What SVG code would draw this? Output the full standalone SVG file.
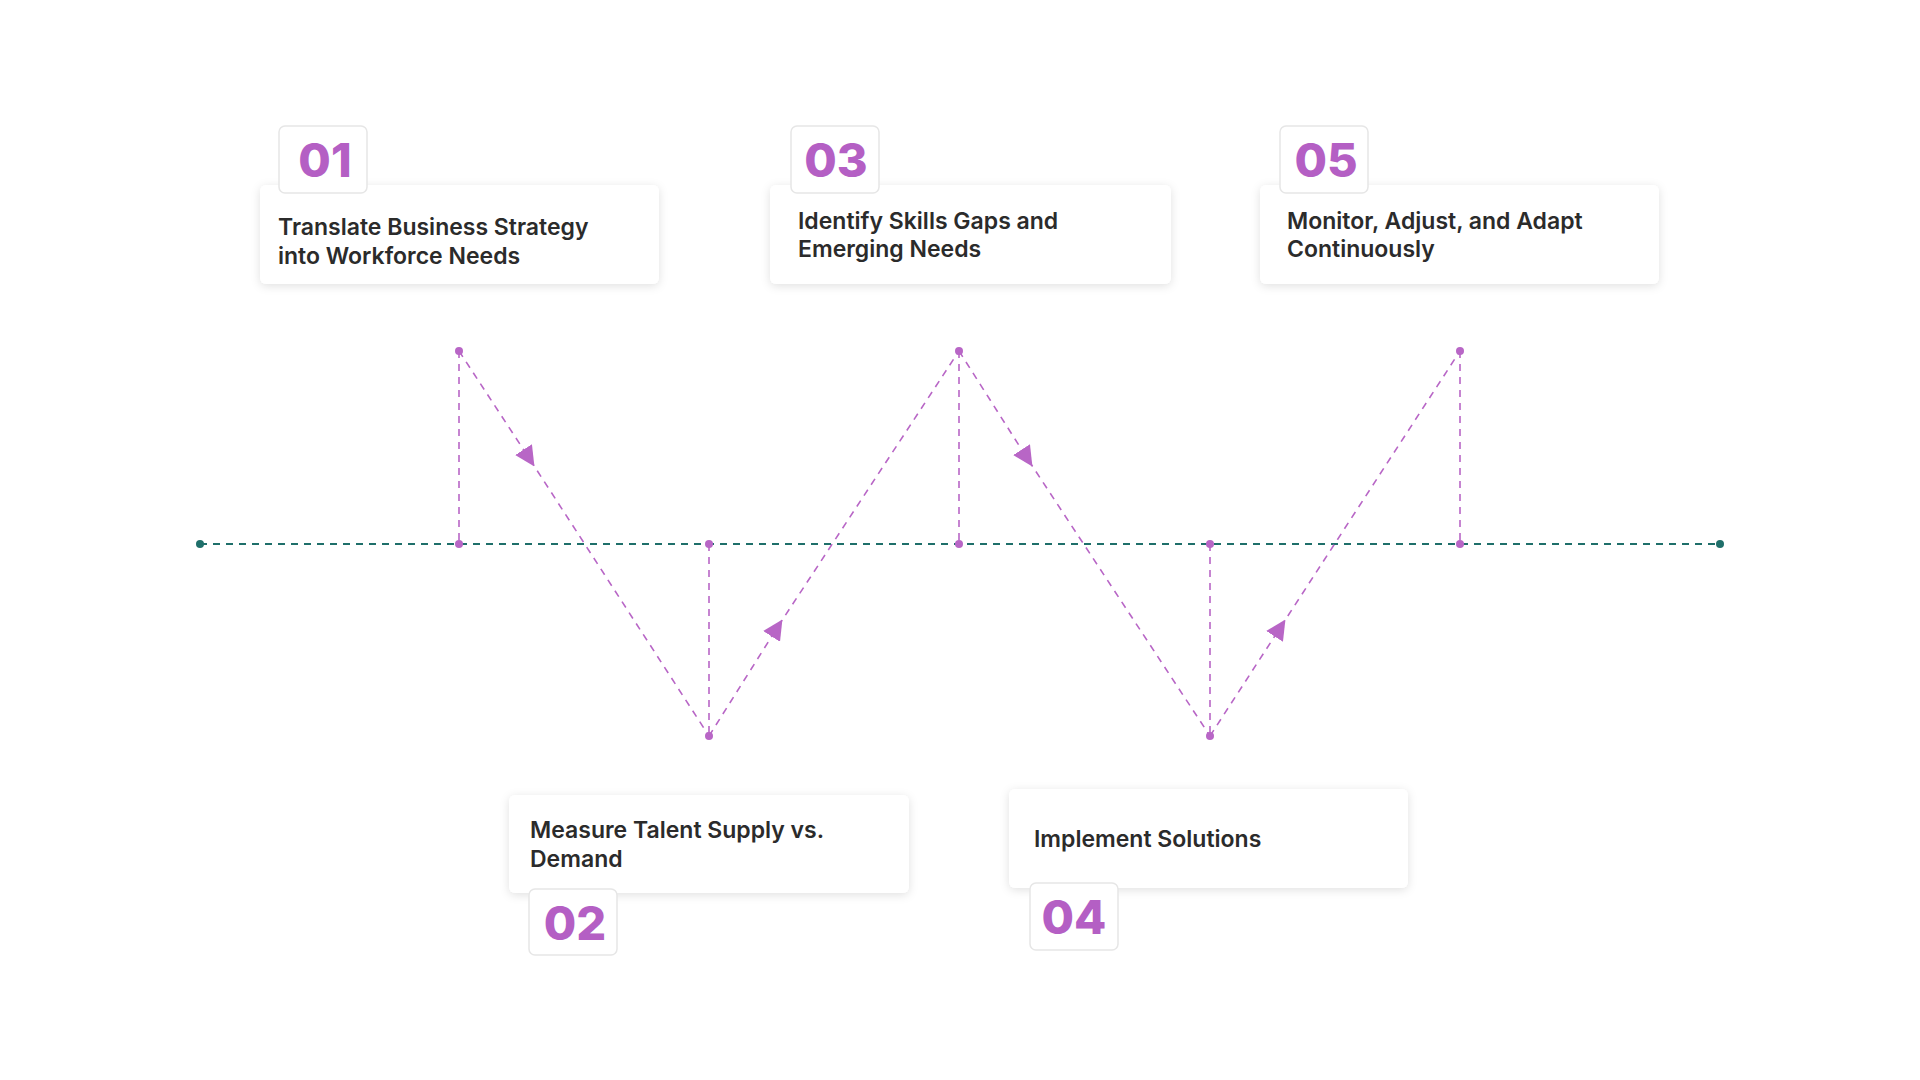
<svg xmlns="http://www.w3.org/2000/svg" width="1920" height="1080" viewBox="0 0 1920 1080">
<style>
.card{fill:#fff;filter:url(#sh)}
.badge{fill:#fff;stroke:#e6e6e6;stroke-width:1.5}
.num{font-family:Inter,"Liberation Sans",sans-serif;font-weight:800;font-size:47px;fill:#b45fc4;text-anchor:middle}
.t{font-family:Inter,"Liberation Sans",sans-serif;font-weight:600;font-size:23px;fill:#2b2b2b}
.z{stroke:#b866c6;stroke-width:1.6;stroke-dasharray:7 6;fill:none}
.dot{fill:#b866c6}
</style>
<defs>
<filter id="sh" x="-10%" y="-20%" width="120%" height="150%"><feDropShadow dx="0" dy="2" stdDeviation="5" flood-color="#000" flood-opacity="0.12"/></filter>
<marker id="ah" viewBox="0 0 10 10" refX="5" refY="5" markerWidth="20" markerHeight="20" markerUnits="userSpaceOnUse" orient="auto"><path d="M0,0 L10,5 L0,10 z" fill="#b866c6"/></marker>
</defs>
<rect width="1920" height="1080" fill="#fff"/>
<g id="connectors">
<line x1="200" y1="544" x2="1720" y2="544" stroke="#1f6f6a" stroke-width="1.8" stroke-dasharray="7 6"/>
<circle cx="200" cy="544" r="4" fill="#1f6f6a"/><circle cx="1720" cy="544" r="4" fill="#1f6f6a"/>
<line class="z" x1="459" y1="351" x2="459" y2="544"/>
<line class="z" x1="709" y1="544" x2="709" y2="736"/>
<line class="z" x1="959" y1="351" x2="959" y2="544"/>
<line class="z" x1="1210" y1="544" x2="1210" y2="736"/>
<line class="z" x1="1460" y1="351" x2="1460" y2="544"/>
<polyline class="z" points="459,351 529,458 709,736" marker-mid="url(#ah)"/>
<polyline class="z" points="709,736 777,628 959,351" marker-mid="url(#ah)"/>
<polyline class="z" points="959,351 1027,458 1210,736" marker-mid="url(#ah)"/>
<polyline class="z" points="1210,736 1280,628 1460,351" marker-mid="url(#ah)"/>
<g class="dot">
<circle cx="459" cy="351" r="4"/><circle cx="459" cy="544" r="4"/>
<circle cx="709" cy="544" r="4"/><circle cx="709" cy="736" r="4"/>
<circle cx="959" cy="351" r="4"/><circle cx="959" cy="544" r="4"/>
<circle cx="1210" cy="544" r="4"/><circle cx="1210" cy="736" r="4"/>
<circle cx="1460" cy="351" r="4"/><circle cx="1460" cy="544" r="4"/>
</g>
</g>
<g id="node1">
<rect class="card" x="260" y="185" width="399" height="99" rx="6"/>
<rect class="badge" x="279" y="126" width="88" height="67" rx="6"/>
<text class="num" x="325" y="177">01</text>
<text class="t" x="278" y="235">Translate Business Strategy</text>
<text class="t" x="278" y="264">into Workforce Needs</text>
</g>
<g id="node2">
<rect class="card" x="509" y="795" width="400" height="98" rx="6"/>
<rect class="badge" x="529" y="889" width="88" height="66" rx="6"/>
<text class="num" x="575" y="940">02</text>
<text class="t" x="530" y="838">Measure Talent Supply vs.</text>
<text class="t" x="530" y="867">Demand</text>
</g>
<g id="node3">
<rect class="card" x="770" y="185" width="401" height="99" rx="6"/>
<rect class="badge" x="791" y="126" width="88" height="67" rx="6"/>
<text class="num" x="836" y="177">03</text>
<text class="t" x="798" y="229">Identify Skills Gaps and</text>
<text class="t" x="798" y="257">Emerging Needs</text>
</g>
<g id="node4">
<rect class="card" x="1009" y="789" width="399" height="99" rx="6"/>
<rect class="badge" x="1030" y="883" width="88" height="67" rx="6"/>
<text class="num" x="1074" y="934">04</text>
<text class="t" x="1034" y="847">Implement Solutions</text>
</g>
<g id="node5">
<rect class="card" x="1260" y="185" width="399" height="99" rx="6"/>
<rect class="badge" x="1280" y="126" width="88" height="67" rx="6"/>
<text class="num" x="1326" y="177">05</text>
<text class="t" x="1287" y="229">Monitor, Adjust, and Adapt</text>
<text class="t" x="1287" y="257">Continuously</text>
</g>
</svg>
